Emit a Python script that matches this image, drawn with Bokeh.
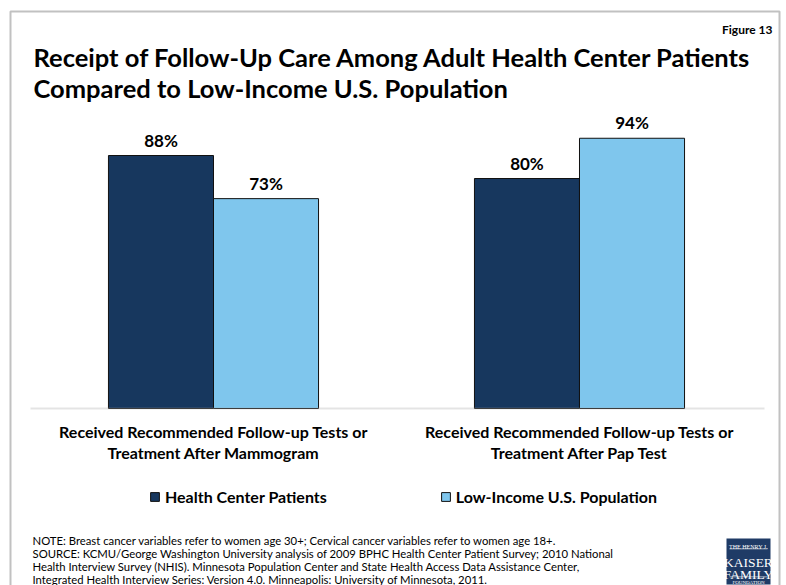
from bokeh.plotting import figure
from bokeh.models import (FactorRange, Range1d, ColumnDataSource, LabelSet, Label, Legend,
                          LegendItem, BoxAnnotation)
from bokeh.core.properties import value
from bokeh.transform import dodge
from bokeh.embed import file_html
from bokeh.resources import INLINE

# ---------------- data ----------------
categories = [
    "Received Recommended Follow-up Tests or\nTreatment After Mammogram",
    "Received Recommended Follow-up Tests or\nTreatment After Pap Test",
]
health_center = [88, 80]
low_income = [73, 94]
series_names = ["Health Center Patients", "Low-Income U.S. Population"]

title_lines = ["Receipt of Follow-Up Care Among Adult Health Center Patients",
               "Compared to Low-Income U.S. Population"]
figure_label = "Figure 13"
note_lines = [
    "NOTE: Breast cancer variables refer to women age 30+; Cervical cancer variables refer to women age 18+.",
    "SOURCE: KCMU/George Washington University analysis of 2009 BPHC Health Center Patient Survey; 2010 National",
    "Health Interview Survey (NHIS). Minnesota Population Center and State Health Access Data Assistance Center,",
    "Integrated Health Interview Series: Version 4.0. Minneapolis: University of Minnesota, 2011.",
]

DARK = "#17375E"
LIGHT = "#7FC6ED"
FONT = "Lato"

# ---------------- layout constants (pixels) ----------------
W, H = 786, 585
FRAME_LEFT = 6
BASE_Y = 408.0      # canvas y of the value 0
TOP_Y = 120.5       # canvas y of the value 100
px_per_unit = (BASE_Y - TOP_Y) / 100.0
y_start = -(H - BASE_Y) / px_per_unit
y_end = 100 + TOP_Y / px_per_unit

src = ColumnDataSource(dict(
    cat=categories,
    line1=[c.split("\n")[0] for c in categories],
    line2=[c.split("\n")[1] for c in categories],
    hc=health_center,
    li=low_income,
    zero=[0] * len(categories),
    hc_lbl=[f"{v}%" for v in health_center],
    li_lbl=[f"{v}%" for v in low_income],
))

p = figure(width=W, height=H,
           x_range=FactorRange(factors=categories, range_padding=0.0656,
                               range_padding_units="absolute"),
           y_range=Range1d(y_start, y_end), output_backend="svg", toolbar_location=None,
           x_axis_location=None, y_axis_location=None,
           min_border_left=FRAME_LEFT, min_border_right=0, min_border_top=0,
           min_border_bottom=0, outline_line_color=None,
           background_fill_color="white", border_fill_color="white")
p.grid.visible = False


def sx(x):
    return x - FRAME_LEFT


def sy(y):
    return H - y


def screen_box(left, right, top, bottom, **kw):
    return BoxAnnotation(left=sx(left), right=sx(right), top=sy(top), bottom=sy(bottom),
                         left_units="screen", right_units="screen",
                         top_units="screen", bottom_units="screen", **kw)


bw = 0.287
off = bw / 2
r1 = p.vbar(x=dodge("cat", -off, range=p.x_range), top="hc", width=bw, source=src,
            fill_color=DARK, line_color="#111111", line_width=1)
r2 = p.vbar(x=dodge("cat", off, range=p.x_range), top="li", width=bw, source=src,
            fill_color=LIGHT, line_color="#111111", line_width=1)

# baseline (category axis line)
p.add_layout(BoxAnnotation(left=sx(30), right=sx(764), top=0, bottom=0,
                           left_units="screen", right_units="screen",
                           fill_alpha=0, line_color="#A6A6A6", line_width=2))

# value labels
for col, lbl, o in (("hc", "hc_lbl", -off), ("li", "li_lbl", off)):
    p.add_layout(LabelSet(x=dodge("cat", o, range=p.x_range), y=col, text=lbl, source=src,
                          y_offset=9, text_align="center", text_baseline="alphabetic",
                          text_font=value(FONT), text_font_style="bold",
                          text_font_size="17px", text_color="#000000"))

# category labels (two centred lines)
for col, yoff in (("line1", -29), ("line2", -50)):
    p.add_layout(LabelSet(x="cat", y="zero", text=col, source=src, y_offset=yoff,
                          text_align="center", text_baseline="alphabetic",
                          text_font=value(FONT), text_font_style="bold",
                          text_font_size="16px", text_color="#000000"))

legend = Legend(items=[LegendItem(label=series_names[0], renderers=[r1]),
                       LegendItem(label=series_names[1], renderers=[r2])],
                orientation="horizontal", location=(sx(149), sy(506)),
                glyph_width=11, glyph_height=11, label_standoff=5, spacing=113,
                padding=0, margin=0, border_line_color=None, background_fill_alpha=0,
                label_text_font=FONT, label_text_font_style="bold",
                label_text_font_size="16px", label_text_color="#000000")
p.add_layout(legend)

# outer frame border
p.add_layout(screen_box(10, 779, 11, 620, fill_alpha=0, line_color="#333333",
                        line_width=2))

# titles
p.add_layout(Label(x=sx(772), y=sy(28.5), x_units="screen", y_units="screen",
                   text=figure_label, text_align="right", text_baseline="alphabetic",
                   text_font=FONT, text_font_style="bold", text_font_size="12px",
                   text_color="#000000"))
for i, t in enumerate(title_lines):
    p.add_layout(Label(x=sx(33), y=sy(56.5 + 30.5 * i), x_units="screen", y_units="screen",
                       text=t, text_baseline="alphabetic", text_font=FONT,
                       text_font_style="bold", text_font_size="25.5px",
                       text_color="#000000"))

# notes
for i, t in enumerate(note_lines):
    p.add_layout(Label(x=sx(32), y=sy(540 + 13 * i), x_units="screen", y_units="screen",
                       text=t, text_baseline="alphabetic", text_font=FONT,
                       text_font_size="11.3px", text_color="#000000"))

# logo
p.add_layout(screen_box(726, 770, 538, 584, fill_color="#1F3B66", fill_alpha=1,
                        line_color=None))
for top in (548, 576):
    p.add_layout(screen_box(729, 767, top, top + 0.8, fill_color="white", fill_alpha=0.8,
                            line_color=None))
for txt, yy, fs in (("THE HENRY J.", 546, "6px"), ("KAISER", 562, "13.5px"),
                    ("FAMILY", 574, "13.5px"), ("FOUNDATION", 582, "5px")):
    p.add_layout(Label(x=sx(748), y=sy(yy), x_units="screen", y_units="screen",
                       text=txt, text_align="center", text_baseline="alphabetic",
                       text_font="Liberation Serif", text_font_size=fs,
                       text_color="white"))

open("out.html", "w").write(file_html(p, INLINE))
